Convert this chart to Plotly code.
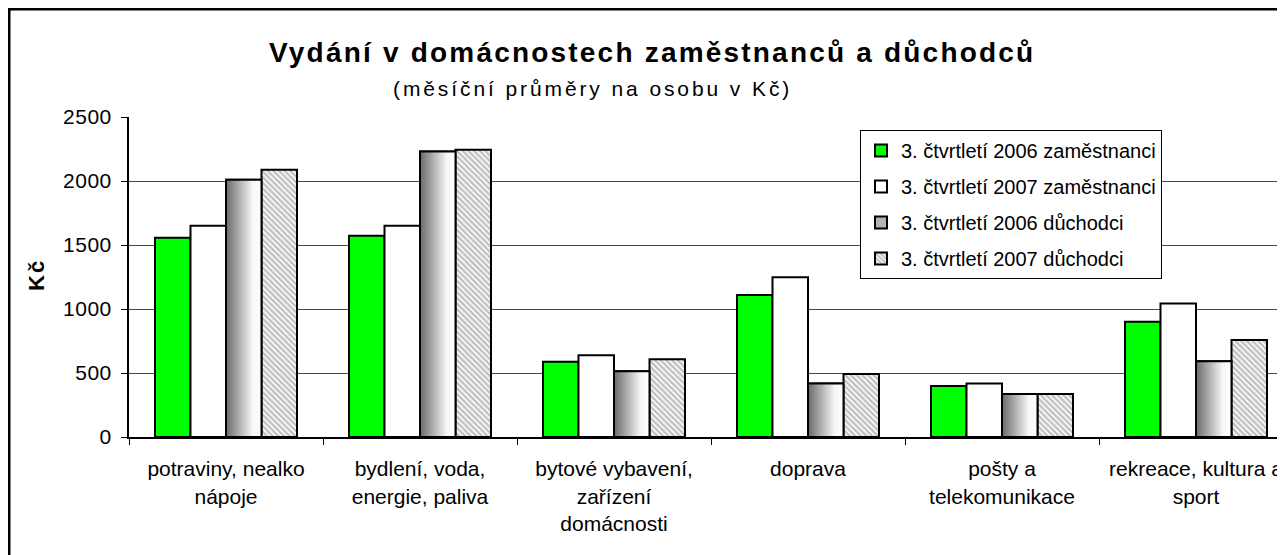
import plotly.graph_objects as go

# ---------------- data ----------------
categories = [
    ["potraviny, nealko", "nápoje"],
    ["bydlení, voda,", "energie, paliva"],
    ["bytové vybavení,", "zařízení", "domácnosti"],
    ["doprava"],
    ["pošty a", "telekomunikace"],
    ["rekreace, kultura a", "sport"],
]
series_names = [
    "3. čtvrtletí 2006 zaměstnanci",
    "3. čtvrtletí 2007 zaměstnanci",
    "3. čtvrtletí 2006 důchodci",
    "3. čtvrtletí 2007 důchodci",
]
zam_2006 = [1557, 1573, 588, 1109, 398, 901]
zam_2007 = [1651, 1651, 638, 1248, 417, 1042]
duch_2006 = [2010, 2230, 513, 417, 336, 591]
duch_2007 = [2088, 2245, 607, 492, 336, 758]
y_ticks = [0, 500, 1000, 1500, 2000, 2500]

title_text = "Vydání v domácnostech zaměstnanců a důchodců"
subtitle_text = "(měsíční průměry na osobu v Kč)"
y_title = "Kč"

# ---------------- styling ----------------
FONT = "Arial, 'Liberation Sans', sans-serif"
BARGAP = 0.268
N_SERIES = 4
outline = dict(color="black", width=2)


def spaced(text, ls):
    return f'<span style="letter-spacing:{ls}px">{text}</span>'


x_idx = list(range(len(categories)))
tick_labels = ["<br>".join(lines) for lines in categories]
y_labels = [spaced(str(v), 0.5) for v in y_ticks]

fig = go.Figure()
fig.add_bar(name=series_names[0], x=x_idx, y=zam_2006, legendgroup="g0",
            marker=dict(color="#00ff00", line=outline))
fig.add_bar(name=series_names[1], x=x_idx, y=zam_2007, legendgroup="g1",
            marker=dict(color="white", line=outline))
fig.add_bar(name=series_names[2], x=x_idx, y=duch_2006, legendgroup="g2",
            marker=dict(color="#b4b4b4", line=outline))
fig.add_bar(name=series_names[3], x=x_idx, y=duch_2007, legendgroup="g3",
            marker=dict(color="white", line=outline,
                        pattern=dict(shape="\\", fgcolor="#808080", bgcolor="white",
                                     size=4, solidity=0.6)))

# gradient fill for the "2006 důchodci" bars (overlaid on the bars of that series)
group_w = 1 - BARGAP
bar_w = group_w / N_SERIES
for i, v in zip(x_idx, duch_2006):
    x0 = i - group_w / 2 + 2 * bar_w
    x1 = x0 + bar_w
    fig.add_scatter(
        x=[x0, x1, x1, x0, x0], y=[0, 0, v, v, 0],
        mode="lines", fill="toself",
        fillgradient=dict(type="horizontal",
                          colorscale=[[0, "#6a6a6a"], [0.75, "#f6f6f6"], [1, "#ffffff"]]),
        line=dict(color="black", width=2),
        showlegend=False, hoverinfo="skip",
    )

# page has an 8px body margin; work in screen pixels and convert
OFF = 8
W, H = 1285 - OFF, 555 - OFF
PLOT_L, PLOT_R, PLOT_T, PLOT_B = 129 - OFF, 1285 - OFF, 117 - OFF, 437 - OFF
cat_px = 194.0
x_max = -0.5 + (PLOT_R - PLOT_L) / cat_px


def px_x(px):
    return (px - OFF - PLOT_L) / (PLOT_R - PLOT_L)


def px_y(py):
    return (PLOT_B - (py - OFF)) / (PLOT_B - PLOT_T)


fig.update_layout(
    width=W, height=H,
    margin=dict(l=PLOT_L, r=W - PLOT_R, t=PLOT_T, b=H - PLOT_B, pad=0),
    paper_bgcolor="white", plot_bgcolor="white",
    font=dict(family=FONT, color="black", size=20),
    barmode="group", bargap=BARGAP, bargroupgap=0,
    showlegend=True,
    legend=dict(x=px_x(860), y=px_y(130), xanchor="left", yanchor="top",
                bordercolor="black", borderwidth=1, bgcolor="white",
                font=dict(family=FONT, size=20, color="black"),
                traceorder="grouped", tracegroupgap=7),
    xaxis=dict(range=[-0.5, x_max], tickmode="array", tickvals=x_idx,
               ticktext=tick_labels, ticks="", showline=True, linecolor="black",
               linewidth=2, showgrid=False, zeroline=False, ticklabelstandoff=12,
               tickfont=dict(size=21),
               minor=dict(tickmode="array", tickvals=[i - 0.5 for i in x_idx] + [len(x_idx) - 0.5],
                          ticks="outside", ticklen=6, tickwidth=1, tickcolor="black",
                          showgrid=False)),
    yaxis=dict(range=[0, 2500], tickmode="array", tickvals=y_ticks, ticktext=y_labels,
               ticks="outside", ticklen=6, tickwidth=1, tickcolor="black",
               showline=True, linecolor="black", linewidth=2,
               showgrid=True, gridcolor="#4a4a4a", gridwidth=1, zeroline=False,
               tickfont=dict(size=21), ticklabelstandoff=5),
    annotations=[
        dict(text=f"<b>{spaced(title_text, 2.2)}</b>", xref="paper", yref="paper",
             x=px_x(652), y=px_y(52), xanchor="center", yanchor="middle",
             showarrow=False, font=dict(family=FONT, size=28, color="black")),
        dict(text=spaced(subtitle_text, 2.9), xref="paper", yref="paper",
             x=px_x(592), y=px_y(88), xanchor="center", yanchor="middle",
             showarrow=False, font=dict(family=FONT, size=21, color="black")),
        dict(text=f"<b>{spaced(y_title, 2)}</b>", xref="paper", yref="paper",
             x=px_x(36), y=px_y(275), xanchor="center", yanchor="middle",
             textangle=-90, showarrow=False,
             font=dict(family=FONT, size=22, color="black")),
    ],
    shapes=[
        dict(type="rect", xref="paper", yref="paper",
             x0=px_x(9), x1=px_x(1330), y0=px_y(600), y1=px_y(9),
             line=dict(color="black", width=3), fillcolor="rgba(0,0,0,0)", layer="above"),
    ],
)

fig.write_html("out.html")
